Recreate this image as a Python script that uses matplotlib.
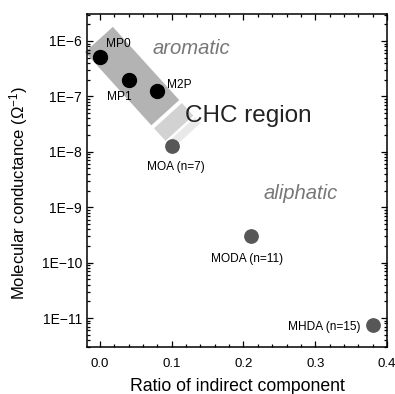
import numpy as np
import matplotlib
matplotlib.use("Agg")
import matplotlib.pyplot as plt
from matplotlib.patches import Polygon
from matplotlib.ticker import FixedLocator, FixedFormatter, LogLocator, NullFormatter, MultipleLocator

plt.rcParams["font.family"] = ["Liberation Sans", "DejaVu Sans"]
plt.rcParams["mathtext.fontset"] = "custom"
plt.rcParams["mathtext.rm"] = "Liberation Sans"
plt.rcParams["mathtext.it"] = "Liberation Sans:italic"

# Aromatic molecules (black) and alkanedithiol-type molecules (gray)
aro_names = ["MP0", "MP1", "M2P"]
aro_ratio = [0.0, 0.04, 0.08]
aro_cond = [5.1e-7, 2.0e-7, 1.25e-7]

ali_names = ["MOA (n=7)", "MODA (n=11)", "MHDA (n=15)"]
ali_ratio = [0.10, 0.21, 0.38]
ali_cond = [1.25e-8, 3.0e-10, 7.5e-12]

ytick_vals = [1e-6, 1e-7, 1e-8, 1e-9, 1e-10, 1e-11]
ytick_labels = ["1E\u22126", "1E\u22127", "1E\u22128", "1E\u22129", "1E\u221210", "1E\u221211"]
xtick_vals = [0.0, 0.1, 0.2, 0.3, 0.4]
xtick_labels = ["0.0", "0.1", "0.2", "0.3", "0.4"]

W, H = 395, 394
fig = plt.figure(figsize=(W / 100, H / 100), dpi=100)
ax = fig.add_axes([87 / W, 1 - 347 / H, 300 / W, 333 / H])

ax.set_yscale("log")
ax.set_xlim(-0.0181, 0.4)
ax.set_ylim(3.0e-12, 3.07e-6)


# Shaded "CHC region" band, laid out in figure pixels along a tilted strip
def strip(s0, s1, half_w, color):
    ang = np.deg2rad(47.8)
    d = np.array([np.cos(ang), np.sin(ang)])
    n = np.array([np.sin(ang), -np.cos(ang)])
    c = 46.75
    pts = []
    for s, w in [(s0, c + half_w), (s1, c + half_w), (s1, c - half_w), (s0, c - half_w)]:
        p = d * s + n * w
        pts.append((p[0] / W, 1 - p[1] / H))
    return Polygon(pts, closed=True, facecolor=color, edgecolor="none",
                   transform=fig.transFigure, clip_on=False, zorder=1)


for s0, s1, col in [(95.7, 194.5, "#b3b3b3"), (198.5, 215.5, "#d2d2d2"), (218.0, 226.0, "#e9e9e9")]:
    ax.add_artist(strip(s0, s1, 18.8, col))

ax.plot(aro_ratio, aro_cond, "o", color="black", markersize=10, zorder=5, clip_on=False)
ax.plot(ali_ratio, ali_cond, "o", color="#575757", markersize=9.6, zorder=5, clip_on=False)

label_fs = 8.6
aro_offsets = [(4.3, 9.4, "left"), (-6.5, -12.2, "center"), (7.2, 4.3, "left")]
for name, x, y, (dx, dy, ha) in zip(aro_names, aro_ratio, aro_cond, aro_offsets):
    ax.annotate(name, (x, y), xytext=(dx, dy), textcoords="offset points",
                ha=ha, va="center", fontsize=label_fs, zorder=6)

ali_offsets = [(2.9, -15.0, "center"), (-2.9, -16.6, "center"), (-8.6, -1.4, "right")]
for name, x, y, (dx, dy, ha) in zip(ali_names, ali_ratio, ali_cond, ali_offsets):
    ax.annotate(name, (x, y), xytext=(dx, dy), textcoords="offset points",
                ha=ha, va="center", fontsize=label_fs, zorder=6)

ax.text(0.217, 0.895, "aromatic", transform=ax.transAxes, fontsize=14.6,
        style="italic", color="#777777", ha="left", va="center", zorder=6)
ax.text(0.587, 0.462, "aliphatic", transform=ax.transAxes, fontsize=14.6,
        style="italic", color="#777777", ha="left", va="center", zorder=6)
ax.text(0.327, 0.676, "CHC region", transform=ax.transAxes, fontsize=17.5,
        color="#222222", ha="left", va="baseline", zorder=6)

# Axes, ticks and labels
ax.yaxis.set_major_locator(FixedLocator(ytick_vals))
ax.yaxis.set_major_formatter(FixedFormatter(ytick_labels))
ax.yaxis.set_minor_locator(LogLocator(base=10, subs=np.arange(2, 10)))
ax.yaxis.set_minor_formatter(NullFormatter())
ax.xaxis.set_major_locator(FixedLocator(xtick_vals))
ax.xaxis.set_major_formatter(FixedFormatter(xtick_labels))
ax.xaxis.set_minor_locator(MultipleLocator(0.02))

ax.tick_params(which="both", direction="in", top=True, right=True, width=0.9, color="black")
ax.tick_params(which="major", length=4.5)
ax.tick_params(which="minor", length=2.5)
ax.tick_params(axis="y", which="major", labelsize=10, pad=3.6)
ax.tick_params(axis="x", which="major", labelsize=9.5, pad=8)
for sp in ax.spines.values():
    sp.set_linewidth(1.1)

ax.set_xlabel("Ratio of indirect component", fontsize=12.7)
ax.xaxis.set_label_coords(0.5, -0.093)
ax.set_ylabel("Molecular conductance (\u03a9$^{-1}$)", fontsize=12)
ax.yaxis.set_label_coords(-0.19, 0.461)

fig.savefig("out.png", dpi=100)
